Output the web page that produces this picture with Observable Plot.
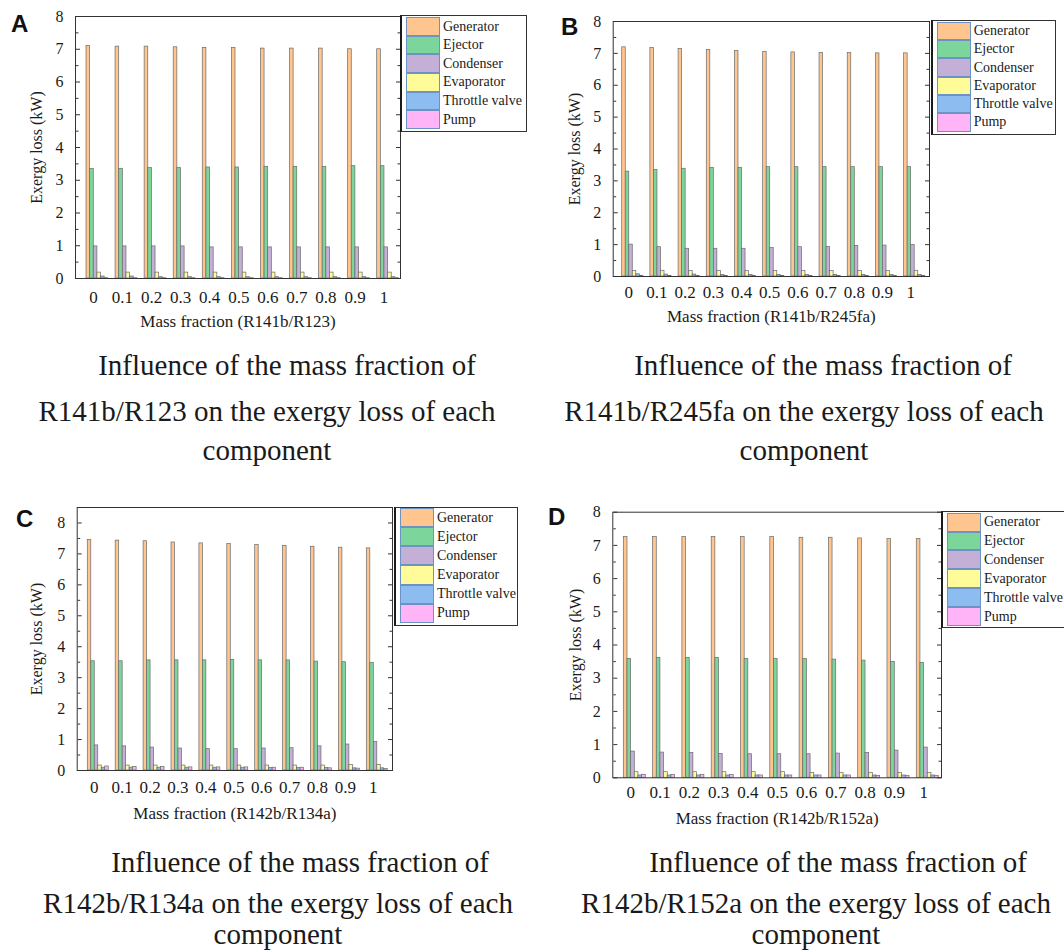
<!DOCTYPE html>
<html>
<head>
<meta charset="utf-8">
<script src="https://cdn.jsdelivr.net/npm/d3@7"></script>
<script src="https://cdn.jsdelivr.net/npm/@observablehq/plot@0.6"></script>
<style>
  html, body { margin: 0; padding: 0; background: #fff; }
  body { width: 1064px; height: 952px; position: relative; overflow: hidden;
         font-family: "Liberation Serif", "Times New Roman", serif; color: #1a1a1a; }
  .abs { position: absolute; }
  .letter { font-family: "Liberation Sans", Arial, sans-serif; font-weight: bold; font-size: 24px; line-height: 1; color: #111; }
  .cap { font-family: "Liberation Serif", "Times New Roman", serif; font-size: 29px; line-height: 1; width: 640px; text-align: center; white-space: nowrap; }
  .legend { background: #fff; border: 1px solid #333; border-left: 2px solid #1a1a1a; box-sizing: border-box; }
  .legend .row { display: flex; align-items: center; }
  .legend .sw { width: 34px; height: 100%; box-sizing: border-box; border: 1px solid #6d92c4; }
  .legend .lab { font-family: "Liberation Serif", "Times New Roman", serif; font-size: 14px; margin-left: 3px; white-space: nowrap; color: #1a1a1a; }
  svg text { font-family: "Liberation Serif", "Times New Roman", serif !important; }
</style>
</head>
<body>
<script>
// Mass fraction of the first component in each binary mixture
const fractions = ["0", "0.1", "0.2", "0.3", "0.4", "0.5", "0.6", "0.7", "0.8", "0.9", "1"];

// System components and their bar colours
const components = ["Generator", "Ejector", "Condenser", "Evaporator", "Throttle valve", "Pump"];
const componentColors = ["#FFC58F", "#7CD69B", "#C4AFD6", "#FFFB98", "#8DBDF0", "#FFB4F8"];

const yTicks = [0, 1, 2, 3, 4, 5, 6, 7, 8];
const yMinorTicks = [0.5, 1.5, 2.5, 3.5, 4.5, 5.5, 6.5, 7.5];

// Exergy loss (kW), one row per component (in the order of `components`)
const lossR141bR123 = [
  [7.10, 7.08, 7.08, 7.06, 7.04, 7.04, 7.02, 7.02, 7.02, 7.00, 7.00],
  [3.34, 3.35, 3.37, 3.37, 3.39, 3.39, 3.41, 3.41, 3.41, 3.43, 3.43],
  [0.98, 0.98, 0.98, 0.98, 0.95, 0.95, 0.95, 0.95, 0.95, 0.95, 0.95],
  [0.18, 0.18, 0.18, 0.18, 0.18, 0.18, 0.18, 0.18, 0.18, 0.18, 0.18],
  [0.06, 0.06, 0.04, 0.04, 0.04, 0.04, 0.04, 0.04, 0.04, 0.04, 0.04],
  [0.01, 0.01, 0.01, 0.01, 0.01, 0.01, 0.01, 0.01, 0.01, 0.01, 0.01]
];
const lossR141bR245fa = [
  [7.19, 7.17, 7.14, 7.11, 7.07, 7.04, 7.03, 7.01, 7.01, 7.00, 7.00],
  [3.29, 3.34, 3.38, 3.41, 3.41, 3.43, 3.43, 3.43, 3.43, 3.43, 3.43],
  [1.00, 0.92, 0.87, 0.87, 0.87, 0.89, 0.92, 0.93, 0.96, 0.97, 0.99],
  [0.17, 0.18, 0.17, 0.17, 0.17, 0.17, 0.17, 0.17, 0.17, 0.17, 0.18],
  [0.07, 0.06, 0.06, 0.05, 0.05, 0.05, 0.05, 0.05, 0.05, 0.05, 0.05],
  [0.02, 0.02, 0.02, 0.02, 0.02, 0.02, 0.02, 0.02, 0.02, 0.02, 0.02]
];
const lossR142bR134a = [
  [7.45, 7.43, 7.41, 7.37, 7.34, 7.32, 7.29, 7.26, 7.23, 7.20, 7.18],
  [3.53, 3.53, 3.56, 3.56, 3.56, 3.57, 3.56, 3.56, 3.52, 3.50, 3.47],
  [0.81, 0.78, 0.74, 0.71, 0.69, 0.69, 0.71, 0.72, 0.78, 0.84, 0.92],
  [0.16, 0.16, 0.16, 0.16, 0.16, 0.16, 0.16, 0.16, 0.16, 0.18, 0.18],
  [0.09, 0.09, 0.09, 0.09, 0.09, 0.09, 0.08, 0.08, 0.08, 0.07, 0.07],
  [0.13, 0.11, 0.11, 0.10, 0.10, 0.10, 0.09, 0.09, 0.07, 0.06, 0.05]
];
const lossR142bR152a = [
  [7.25, 7.25, 7.25, 7.25, 7.25, 7.25, 7.23, 7.23, 7.21, 7.19, 7.19],
  [3.58, 3.61, 3.61, 3.61, 3.58, 3.58, 3.58, 3.56, 3.53, 3.49, 3.46],
  [0.79, 0.76, 0.75, 0.72, 0.71, 0.71, 0.71, 0.73, 0.75, 0.82, 0.91],
  [0.17, 0.17, 0.17, 0.17, 0.17, 0.17, 0.15, 0.15, 0.15, 0.15, 0.15],
  [0.07, 0.07, 0.07, 0.07, 0.07, 0.07, 0.07, 0.07, 0.07, 0.07, 0.07],
  [0.09, 0.09, 0.09, 0.08, 0.07, 0.07, 0.07, 0.07, 0.06, 0.06, 0.06]
];

// Panel letters, mixture names and caption lines
const panelLetters = ["A", "B", "C", "D"];
const mixtures = ["R141b/R123", "R141b/R245fa", "R142b/R134a", "R142b/R152a"];
const captionLine1 = "Influence of the mass fraction of";
const captionLine2 = mixtures.map(m => `${m} on the exergy loss of each`);
const captionLine3 = "component";

// Layout of each panel on the page
const panels = [
  {values: lossR141bR123, left: 0, top: 0, width: 410, ml: 75, mr: 10, mt: 16, mb: 57, ymax: 8,
   po: 0.215, align: 0.88, tickPad: 12, xLabOff: 48, yLabOff: 45,
   letter: [11, 12], legend: {x: 400, y: 15, w: 127, h: 117, row: 18.6, pt: 1.3},
   caption: {c1: 287, c2: 267, b: [375, 421.5, 460]}},
  {values: lossR141bR245fa, left: 540, top: 0, width: 400, ml: 72.7, mr: 11, mt: 21, mb: 59, ymax: 8,
   po: 0.235, align: 0.68, tickPad: 9, xLabOff: 45, yLabOff: 44.7,
   letter: [561, 15], legend: {x: 930.7, y: 20, w: 125.3, h: 115, row: 18.33, pt: 0.7},
   caption: {c1: 823, c2: 804, b: [375, 421.5, 460]}},
  {values: lossR142bR134a, left: 0, top: 500, width: 400, ml: 76.7, mr: 8, mt: 7, mb: 65, ymax: 8.5,
   po: 0.275, align: 0.69, tickPad: 10, xLabOff: 48, yLabOff: 46.7,
   letter: [16, 507], legend: {x: 394, y: 507, w: 124, h: 119, row: 19.07, pt: 0.3},
   caption: {c1: 300, c2: 278, b: [872, 913, 944]}},
  {values: lossR142bR152a, left: 540, top: 500, width: 410, ml: 72.3, mr: 9, mt: 11.7, mb: 57.7, ymax: 8,
   po: 0.235, align: 0.8, tickPad: 8, xLabOff: 46, yLabOff: 43,
   letter: [548, 505], legend: {x: 941, y: 510.7, w: 140, h: 117.3, row: 18.9, pt: 1},
   caption: {c1: 838, c2: 816, b: [872, 913, 944]}}
];

const H = 335;              // svg height of every panel
const PADDING_INNER = 0.25; // gap between mass-fraction groups

function addDiv(cls, text, left, top, extra = {}) {
  const el = document.createElement("div");
  el.className = "abs " + cls;
  el.textContent = text;
  el.style.left = left + "px";
  el.style.top = top + "px";
  Object.assign(el.style, extra);
  document.body.appendChild(el);
  return el;
}

panels.forEach((p, k) => {
  // tidy rows: one per (fraction, component)
  const rows = [];
  components.forEach((c, ci) => p.values[ci].forEach((v, fi) => {
    rows.push({fraction: fractions[fi], component: c, loss: v});
  }));

  // group bandwidth, split evenly among the six components
  const band = d3.scaleBand().domain(fractions).range([p.ml, p.width - p.mr])
    .paddingInner(PADDING_INNER).paddingOuter(p.po).align(p.align);
  const sub = band.bandwidth() / components.length;

  const bars = components.map((c, i) => Plot.barY(rows.filter(d => d.component === c), {
    x: "fraction", y: "loss", fill: "component",
    stroke: "#6a6a6a", strokeWidth: 0.7,
    insetLeft: i * sub, insetRight: (components.length - 1 - i) * sub
  }));

  const chart = Plot.plot({
    width: p.width, height: H,
    marginLeft: p.ml, marginRight: p.mr, marginTop: p.mt, marginBottom: p.mb,
    style: {fontFamily: "'Liberation Serif', 'Times New Roman', serif", fontSize: "16px", color: "#1a1a1a", background: "transparent", overflow: "visible"},
    x: {type: "band", domain: fractions, paddingInner: PADDING_INNER, paddingOuter: p.po, align: p.align, round: false, axis: null},
    y: {domain: [0, p.ymax], axis: null},
    color: {domain: components, range: componentColors},
    marks: [
      ...bars,
      Plot.frame({stroke: "#333", strokeWidth: 1}),
      // inward ticks on the left edge
      Plot.axisY(yTicks, {anchor: "right", frameAnchor: "left", tickSize: 4, fill: "none", label: null, stroke: "#333"}),
      Plot.axisY(yMinorTicks, {anchor: "right", frameAnchor: "left", tickSize: 2.5, fill: "none", label: null, stroke: "#333"}),
      // inward ticks on the right edge
      Plot.axisY(yTicks, {anchor: "left", frameAnchor: "right", tickSize: 4, fill: "none", label: null, stroke: "#333"}),
      Plot.axisY(yMinorTicks, {anchor: "left", frameAnchor: "right", tickSize: 2.5, fill: "none", label: null, stroke: "#333"}),
      // tick labels and axis titles
      Plot.axisY(yTicks, {anchor: "left", tickSize: 0, tickPadding: 12, fontSize: 16,
        label: "Exergy loss (kW)", labelAnchor: "center", labelArrow: "none", labelOffset: p.yLabOff}),
      Plot.axisX({anchor: "bottom", tickSize: 0, tickPadding: p.tickPad, fontSize: 17, dx: -4,
        label: `Mass fraction (${mixtures[k]})`, labelAnchor: "center", labelArrow: "none", labelOffset: p.xLabOff})
    ]
  });

  const holder = document.createElement("div");
  holder.className = "abs";
  holder.style.left = p.left + "px";
  holder.style.top = p.top + "px";
  holder.appendChild(chart);
  document.body.appendChild(holder);

  // legend box
  const lg = p.legend;
  const box = addDiv("legend", "", lg.x, lg.y, {width: lg.w + "px", height: lg.h + "px", paddingTop: lg.pt + "px", paddingLeft: "4px"});
  components.forEach((c, i) => {
    const row = document.createElement("div");
    row.className = "row";
    row.style.height = lg.row + "px";
    const sw = document.createElement("div");
    sw.className = "sw";
    sw.style.background = componentColors[i];
    const lab = document.createElement("div");
    lab.className = "lab";
    lab.textContent = c;
    row.appendChild(sw);
    row.appendChild(lab);
    box.appendChild(row);
  });

  // panel letter
  addDiv("letter", panelLetters[k], p.letter[0], p.letter[1]);

  // caption lines (baseline sits 0.8375em below the line top)
  const asc = 29 * 0.8375;
  const cp = p.caption;
  addDiv("cap", captionLine1, cp.c1 - 320, cp.b[0] - asc);
  addDiv("cap", captionLine2[k], cp.c2 - 320, cp.b[1] - asc);
  addDiv("cap", captionLine3, cp.c2 - 320, cp.b[2] - asc);
});
</script>
</body>
</html>
